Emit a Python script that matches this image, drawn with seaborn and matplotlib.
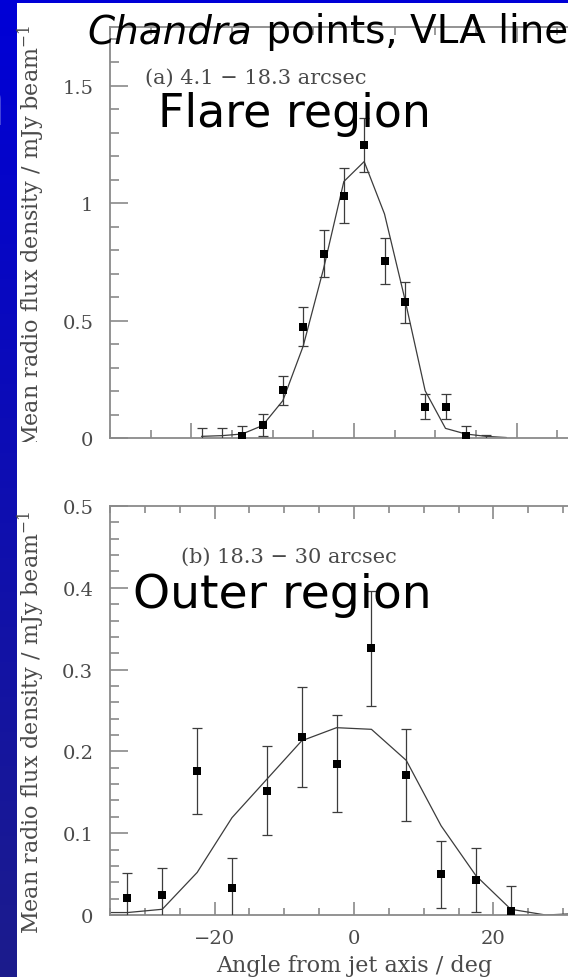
import numpy as np
import pandas as pd
import matplotlib
matplotlib.use("Agg")
import matplotlib.pyplot as plt
import seaborn as sns
from matplotlib.ticker import FixedLocator, FixedFormatter, MultipleLocator
from matplotlib.transforms import Bbox, TransformedBbox

# ---------------------------------------------------------------- data
# (a) flare region, 4.1 - 18.3 arcsec, 2.5 deg bins
flare_angle = [-18.75, -16.25, -13.75, -11.25, -8.75, -6.25, -3.75, -1.25,
               1.25, 3.75, 6.25, 8.75, 11.25, 13.75, 16.25]
flare_xray = [-0.02, -0.02, 0.007, 0.055, 0.204, 0.474, 0.784, 1.032,
              1.246, 0.753, 0.578, 0.134, 0.134, 0.007, -0.03]
flare_err = [0.063, 0.063, 0.045, 0.047, 0.062, 0.083, 0.100, 0.117,
             0.115, 0.098, 0.088, 0.055, 0.055, 0.045, 0.044]
flare_vla_angle = [-18.75, -16.25, -13.75, -11.25, -8.75, -6.25, -3.75, -1.25,
                   1.25, 3.75, 6.25, 8.75, 11.25, 13.75, 16.25, 18.75]
flare_vla = [0.007, 0.010, 0.017, 0.053, 0.159, 0.391, 0.720, 1.092,
             1.177, 0.954, 0.592, 0.201, 0.041, 0.017, 0.007, 0.002]

# (b) outer region, 18.3 - 30 arcsec, 5 deg bins
outer_angle = [-32.5, -27.5, -22.5, -17.5, -12.5, -7.5, -2.5,
               2.5, 7.5, 12.5, 17.5, 22.5]
outer_xray = [0.021, 0.024, 0.176, 0.033, 0.152, 0.218, 0.185,
              0.326, 0.171, 0.050, 0.043, 0.005]
outer_err = [0.030, 0.033, 0.053, 0.037, 0.054, 0.061, 0.059,
             0.070, 0.056, 0.041, 0.039, 0.031]
outer_vla_angle = [-37.5, -32.5, -27.5, -22.5, -17.5, -12.5, -7.5, -2.5,
                   2.5, 7.5, 12.5, 17.5, 22.5, 27.5, 32.5]
outer_vla = [0.003, 0.003, 0.007, 0.052, 0.119, 0.166, 0.213, 0.229,
             0.227, 0.189, 0.109, 0.048, 0.007, 0.000, 0.002]

flare_yticks = [0, 0.5, 1, 1.5]
flare_ylabels = ["0", "0.5", "1", "1.5"]
outer_yticks = [0, 0.1, 0.2, 0.3, 0.4, 0.5]
outer_ylabels = ["0", "0.1", "0.2", "0.3", "0.4", "0.5"]
angle_ticks = [-20, 0, 20]
angle_labels = ["\u221220", "0", "20"]

flare_caption = "(a) 4.1 \u2212 18.3 arcsec"
outer_caption = "(b) 18.3 \u2212 30 arcsec"
y_title = "Mean radio flux density / mJy beam$^{-1}$"
x_title = "Angle from jet axis / deg"

# ---------------------------------------------------------------- style
sns.set_theme(style="ticks")
plt.rcParams["mathtext.fontset"] = "dejavuserif"
plt.rcParams["font.family"] = ["DejaVu Serif"]

W, H = 568, 978
fig = plt.figure(figsize=(W / 100, H / 100), dpi=100)
fig.patch.set_facecolor("white")

AX_GRAY = "#8a8a8a"
INK = "#3c3c3c"
SERIF = dict(family="DejaVu Serif", color="#4a4a4a")


def px_box(x0, y0, x1, y1):
    """Figure-fraction rectangle from pixel edges (origin at top-left)."""
    return [x0 / W, 1 - y1 / H, (x1 - x0) / W, (y1 - y0) / H]


# slide background: blue band along the top and a shaded strip at the left
bg = fig.add_axes([0, 0, 1, 1], zorder=-10)
grad = np.linspace(0, 1, 256)[:, None]
top_c = np.array([0, 0, 215]) / 255
bot_c = np.array([28, 28, 140]) / 255
strip = top_c[None, None, :] * (1 - grad[..., None]) + bot_c[None, None, :] * grad[..., None]
bg.imshow(strip, extent=[0, 17, H, 0], aspect="auto", interpolation="bilinear")
bg.imshow(top_c[None, None, :], extent=[0, W, 4, 0], aspect="auto")
bg.set_xlim(0, W)
bg.set_ylim(H, 0)
bg.axis("off")

# edge of a white slide heading letter at the far left
fig.text(6 / W, 1 - 125 / H, "n", color="white", fontsize=56, fontweight="bold",
         family="DejaVu Sans", ha="right", va="baseline")


def style_axes(ax, yticks, ylabels, ymin_step, xlim, ylim, xmaj_len, xmin_len, show_xlabels):
    ax.set_xlim(*xlim)
    ax.set_ylim(*ylim)
    for side in ("left", "bottom", "top", "right"):
        ax.spines[side].set_color(AX_GRAY)
        ax.spines[side].set_linewidth(1.3)
    ax.xaxis.set_major_locator(FixedLocator(angle_ticks))
    ax.xaxis.set_minor_locator(MultipleLocator(5))
    ax.yaxis.set_major_locator(FixedLocator(yticks))
    ax.yaxis.set_major_formatter(FixedFormatter(ylabels))
    ax.yaxis.set_minor_locator(MultipleLocator(ymin_step))
    ax.tick_params(axis="both", which="both", direction="in", color=AX_GRAY,
                   width=1.2, labelcolor="#4a4a4a", labelsize=14)
    ax.tick_params(axis="x", which="major", length=xmaj_len, top=True, bottom=True)
    ax.tick_params(axis="x", which="minor", length=xmin_len, top=True, bottom=True)
    ax.tick_params(axis="y", which="major", length=13, left=True, right=True, pad=12)
    ax.tick_params(axis="y", which="minor", length=6.5, left=True, right=True)
    if show_xlabels:
        ax.xaxis.set_major_formatter(FixedFormatter(angle_labels))
        ax.tick_params(axis="x", which="major", pad=10)
    else:
        ax.tick_params(axis="x", labelbottom=False)
    for lab in ax.get_xticklabels() + ax.get_yticklabels():
        lab.set_family("DejaVu Serif")
    ax.set_xlabel("")
    ax.set_ylabel("")
    ax.set_facecolor("white")


def draw_profile(ax, ang, vals, err, vla_ang, vla):
    vla_df = pd.DataFrame({"angle": vla_ang, "flux": vla})
    pts_df = pd.DataFrame({"angle": ang, "flux": vals, "err": err})
    sns.lineplot(data=vla_df, x="angle", y="flux", ax=ax, color=INK,
                 linewidth=0.9, estimator=None, sort=False, zorder=2)
    ax.errorbar(pts_df["angle"], pts_df["flux"], yerr=pts_df["err"], fmt="none",
                ecolor=INK, elinewidth=0.9, capsize=3.6, capthick=0.9, zorder=3)
    sns.scatterplot(data=pts_df, x="angle", y="flux", ax=ax, marker="s", s=30,
                    color="black", linewidth=0, zorder=4)


# (a) flare region
ax1 = fig.add_axes(px_box(110, 28, 598, 439))
draw_profile(ax1, flare_angle, flare_xray, flare_err, flare_vla_angle, flare_vla)
style_axes(ax1, flare_yticks, flare_ylabels, 0.1, (-30, 30), (0, 1.75), 10.8, 5.8, False)
ax1.text(-25.7, 1.535, flare_caption, fontsize=15, va="center", ha="left", **SERIF)

# (b) outer region
ax2 = fig.add_axes(px_box(110, 507, 598, 916))
draw_profile(ax2, outer_angle, outer_xray, outer_err, outer_vla_angle, outer_vla)
style_axes(ax2, outer_yticks, outer_ylabels, 0.02, (-35, 35), (0, 0.5), 9.4, 5.0, True)
ax2.text(-24.8, 0.438, outer_caption, fontsize=15, va="center", ha="left", **SERIF)

# axis titles
fig.text(354 / W, 1 - 972 / H, x_title, fontsize=16, ha="center", va="baseline", **SERIF)
fig.text(31 / W, 1 - 722 / H, y_title, fontsize=16, rotation=90,
         ha="center", va="center", **SERIF)
t_top = fig.text(31 / W, 1 - 236 / H, y_title, fontsize=16, rotation=90,
                 ha="center", va="center", **SERIF)
t_top.set_clip_box(TransformedBbox(Bbox([[0, 1 - 443 / H], [1, 1]]), fig.transFigure))
t_top.set_clip_on(True)

# slide annotations
COMIC = dict(family="DejaVu Sans", color="black")
renderer = fig.canvas.get_renderer()
t1 = fig.text(87 / W, 1 - 43 / H, "Chandra", fontsize=28, style="italic",
              ha="left", va="baseline", **COMIC)
bb = t1.get_window_extent(renderer)
fig.text(bb.x1 / W + 0.004, 1 - 43 / H, " points, VLA line", fontsize=28,
         ha="left", va="baseline", **COMIC)
fig.text(158 / W, 1 - 127 / H, "Flare region", fontsize=33, ha="left",
         va="baseline", **COMIC)
fig.text(133 / W, 1 - 608 / H, "Outer region", fontsize=34, ha="left",
         va="baseline", **COMIC)

fig.savefig("out.png", dpi=100)
